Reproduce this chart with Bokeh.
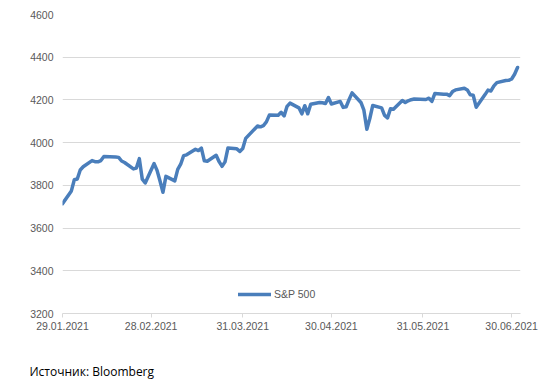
import pandas as pd
from bokeh.plotting import figure
from bokeh.models import Range1d, FixedTicker, DatetimeTickFormatter, Title
from bokeh.embed import file_html
from bokeh.resources import INLINE

dates = [
    "2021-01-29", "2021-02-01", "2021-02-02", "2021-02-03", "2021-02-04", "2021-02-05",
    "2021-02-08", "2021-02-09", "2021-02-10", "2021-02-11", "2021-02-12",
    "2021-02-16", "2021-02-17", "2021-02-18", "2021-02-19",
    "2021-02-22", "2021-02-23", "2021-02-24", "2021-02-25", "2021-02-26",
    "2021-03-01", "2021-03-02", "2021-03-03", "2021-03-04", "2021-03-05",
    "2021-03-08", "2021-03-09", "2021-03-10", "2021-03-11", "2021-03-12",
    "2021-03-15", "2021-03-16", "2021-03-17", "2021-03-18", "2021-03-19",
    "2021-03-22", "2021-03-23", "2021-03-24", "2021-03-25", "2021-03-26",
    "2021-03-29", "2021-03-30", "2021-03-31", "2021-04-01",
    "2021-04-05", "2021-04-06", "2021-04-07", "2021-04-08", "2021-04-09",
    "2021-04-12", "2021-04-13", "2021-04-14", "2021-04-15", "2021-04-16",
    "2021-04-19", "2021-04-20", "2021-04-21", "2021-04-22", "2021-04-23",
    "2021-04-26", "2021-04-27", "2021-04-28", "2021-04-29", "2021-04-30",
    "2021-05-03", "2021-05-04", "2021-05-05", "2021-05-06", "2021-05-07",
    "2021-05-10", "2021-05-11", "2021-05-12", "2021-05-13", "2021-05-14",
    "2021-05-17", "2021-05-18", "2021-05-19", "2021-05-20", "2021-05-21",
    "2021-05-24", "2021-05-25", "2021-05-26", "2021-05-27", "2021-05-28",
    "2021-06-01", "2021-06-02", "2021-06-03", "2021-06-04",
    "2021-06-07", "2021-06-08", "2021-06-09", "2021-06-10", "2021-06-11",
    "2021-06-14", "2021-06-15", "2021-06-16", "2021-06-17", "2021-06-18",
    "2021-06-21", "2021-06-22", "2021-06-23", "2021-06-24", "2021-06-25",
    "2021-06-28", "2021-06-29", "2021-06-30", "2021-07-01", "2021-07-02",
]
sp500 = [
    3714, 3774, 3826, 3830, 3872, 3887,
    3916, 3911, 3910, 3916, 3935,
    3933, 3931, 3914, 3907,
    3877, 3881, 3925, 3829, 3811,
    3902, 3870, 3820, 3768, 3842,
    3821, 3875, 3899, 3939, 3943,
    3969, 3963, 3974, 3915, 3913,
    3941, 3911, 3889, 3910, 3975,
    3971, 3959, 3973, 4020,
    4078, 4074, 4080, 4097, 4129,
    4128, 4142, 4125, 4170, 4185,
    4163, 4135, 4173, 4135, 4180,
    4188, 4187, 4183, 4211, 4181,
    4193, 4165, 4168, 4202, 4233,
    4188, 4152, 4063, 4113, 4174,
    4163, 4128, 4116, 4159, 4156,
    4197, 4188, 4196, 4201, 4204,
    4202, 4208, 4193, 4230,
    4227, 4227, 4220, 4239, 4247,
    4255, 4247, 4224, 4222, 4166,
    4225, 4246, 4242, 4266, 4281,
    4291, 4292, 4298, 4320, 4352,
]
x_tick_dates = ["2021-01-29", "2021-02-28", "2021-03-31", "2021-04-30", "2021-05-31", "2021-06-30"]
y_ticks = [3200, 3400, 3600, 3800, 4000, 4200, 4400, 4600]
series_name = "S&P 500"
source_text = "Источник: Bloomberg"

x = pd.to_datetime(dates)
label_color = "#595959"
font = "Liberation Sans"

p = figure(
    x_axis_type="datetime",
    frame_width=458, frame_height=299,
    min_border_left=62, min_border_top=14, min_border_right=27, min_border_bottom=68,
    output_backend="svg", toolbar_location=None,
    x_range=Range1d(pd.Timestamp("2021-01-29"), pd.Timestamp("2021-07-03")),
    y_range=Range1d(3200, 4600),
)
p.outline_line_color = None
p.background_fill_color = "white"
p.border_fill_color = "white"

p.line(x, sp500, line_color="#4A7EBB", line_width=3.5, line_join="round",
       line_cap="round", legend_label=series_name)

tick_ms = [pd.Timestamp(d).value // 10**6 for d in x_tick_dates]
p.xaxis.ticker = FixedTicker(ticks=tick_ms)
fmt = "%d.%m.%Y"
p.xaxis.formatter = DatetimeTickFormatter(days=fmt, months=fmt, years=fmt, hours=fmt,
                                          minutes=fmt, seconds=fmt, milliseconds=fmt,
                                          microseconds=fmt, hourmin=fmt, minsec=fmt)
p.xaxis.axis_line_color = "#d9d9d9"
p.xaxis.major_tick_line_color = "#d9d9d9"
p.xaxis.major_tick_out = 4
p.xaxis.major_tick_in = 0
p.xaxis.minor_tick_line_color = None
p.xaxis.major_label_standoff = 4
p.xgrid.grid_line_color = None

p.yaxis.ticker = FixedTicker(ticks=y_ticks)
p.yaxis.axis_line_color = None
p.yaxis.major_tick_line_color = None
p.yaxis.minor_tick_line_color = None
p.yaxis.major_tick_out = 0
p.yaxis.major_label_standoff = 9
p.ygrid.grid_line_color = "#d9d9d9"
p.ygrid.grid_line_width = 1

for ax in (p.xaxis, p.yaxis):
    ax.major_label_text_font = font
    ax.major_label_text_font_size = "10.5px"
    ax.major_label_text_color = label_color

lg = p.legend[0]
lg.location = (176, 12)
lg.border_line_color = None
lg.background_fill_alpha = 0
lg.padding = 0
lg.margin = 0
lg.glyph_width = 33
lg.glyph_height = 14
lg.label_height = 14
lg.label_standoff = 3
lg.label_text_font = font
lg.label_text_font_size = "10.5px"
lg.label_text_color = label_color

p.add_layout(Title(text=source_text, align="left", offset=-33, standoff=56,
                   text_font="Open Sans", text_font_size="12px", text_color="black",
                   text_font_style="normal"), "below")

open("out.html", "w").write(file_html(p, INLINE))
